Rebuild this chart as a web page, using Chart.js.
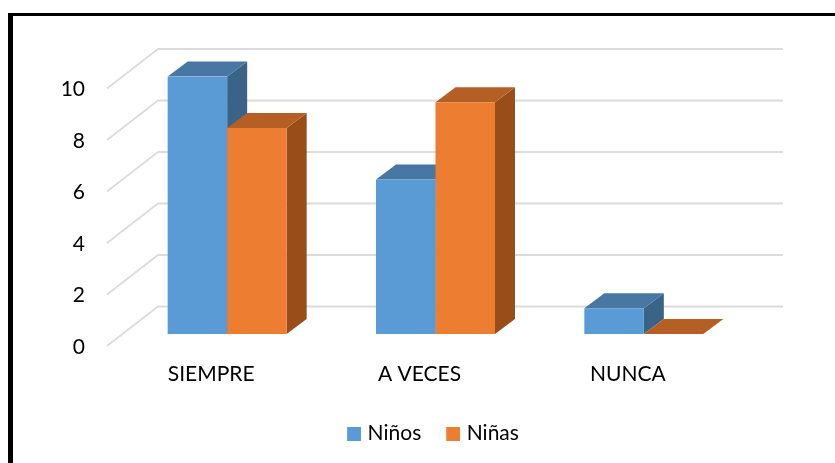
<!DOCTYPE html>
<html><head><meta charset="utf-8">
<style>
html,body{margin:0;padding:0;background:#fff;overflow:hidden}
#wrap{position:relative;width:835px;height:463px}
#frame{position:absolute;left:8px;top:13px;right:0;bottom:0;border-left:5px solid #000;border-top:3px solid #000;box-sizing:border-box}
canvas{position:absolute;left:0;top:0}
</style>
<script src="https://cdn.jsdelivr.net/npm/chart.js@4/dist/chart.umd.min.js"></script>
</head><body>
<div id="wrap"><div id="frame"></div><canvas id="c" width="835" height="463"></canvas></div>
<script>
const categories = ["SIEMPRE", "A VECES", "NUNCA"];
const ninos = [10, 6, 1];
const ninas = [8, 9, 0];
const yTicks = [0, 2, 4, 6, 8, 10];

const FONT = "Lato, 'Open Sans', sans-serif";
const seriesColors = [
  { front: "#5B9BD5", top: "#4777A2", side: "#3A6388" },
  { front: "#ED7D31", top: "#B55F25", side: "#994E1A" }
];

function legendSwatch(color) {
  const cv = document.createElement("canvas");
  cv.width = 18; cv.height = 14;
  const g = cv.getContext("2d");
  g.fillStyle = color;
  g.fillRect(4, 0, 14, 14);
  return cv;
}

const box3d = {
  id: "box3d",
  beforeDatasetsDraw(chart) {
    const ctx = chart.ctx;
    const y = chart.scales.y, area = chart.chartArea;
    const poly = (pts, fill) => {
      ctx.beginPath();
      pts.forEach((p, i) => i ? ctx.lineTo(p[0], p[1]) : ctx.moveTo(p[0], p[1]));
      ctx.closePath(); ctx.fillStyle = fill; ctx.fill();
    };
    // floor and back-wall grid lines
    ctx.save();
    ctx.strokeStyle = "#DCDCDC"; ctx.lineWidth = 1.8;
    yTicks.forEach(v => {
      const py = y.getPixelForValue(v);
      ctx.beginPath();
      ctx.moveTo(area.left - 16, py + 12);
      ctx.lineTo(area.left + 35, py - 27.5);
      ctx.lineTo(area.right + 35, py - 27.5);
      ctx.stroke();
    });
    // top and side faces, blue first so that orange overlaps it
    const dx = 20, dy = -15;
    chart.data.datasets.forEach((ds, i) => {
      chart.getDatasetMeta(i).data.forEach(bar => {
        const p = bar.getProps(["x", "y", "base", "width"], true);
        const l = p.x - p.width / 2, r = p.x + p.width / 2;
        const c = seriesColors[i];
        poly([[r, p.y], [r + dx, p.y + dy], [r + dx, p.base + dy], [r, p.base]], c.side);
        poly([[l, p.y], [l + dx, p.y + dy], [r + dx, p.y + dy], [r, p.y]], c.top);
      });
    });
    ctx.restore();
  }
};

new Chart(document.getElementById("c"), {
  type: "bar",
  data: {
    labels: categories,
    datasets: [
      { label: "Niños", data: ninos, backgroundColor: seriesColors[0].front },
      { label: "Niñas", data: ninas, backgroundColor: seriesColors[1].front }
    ]
  },
  plugins: [box3d],
  options: {
    responsive: false,
    animation: false,
    layout: { padding: { left: 31, right: 0, top: 76.5, bottom: 9 } },
    datasets: { bar: { categoryPercentage: 0.5712, barPercentage: 1, borderWidth: 0 } },
    scales: {
      x: {
        grid: { display: false }, border: { display: false },
        afterFit(s) { s.height = 64; },
        ticks: { color: "#000", font: { family: FONT, size: 21 }, padding: 20, labelOffset: -16, maxRotation: 0 }
      },
      y: {
        min: 0, max: 10,
        grid: { display: false, drawTicks: false }, border: { display: false },
        afterFit(s) { s.width = 92; },
        afterBuildTicks(s) { s.ticks = yTicks.map(v => ({ value: v })); },
        ticks: { color: "#000", font: { family: FONT, size: 21 }, padding: 38, labelOffset: 13 }
      },
      spacer: {
        position: "right", min: 0, max: 10,
        grid: { display: false, drawTicks: false }, border: { display: false },
        ticks: { display: false },
        afterFit(s) { s.width = 87; }
      }
    },
    plugins: {
      tooltip: { enabled: false },
      legend: {
        position: "bottom",
        labels: {
          color: "#000",
          font: { family: FONT, size: 21 },
          usePointStyle: true, pointStyleWidth: 10, boxHeight: 14,
          padding: 25,
          generateLabels(chart) {
            return chart.data.datasets.map((ds, i) => ({
              text: ds.label, datasetIndex: i, fontColor: "#000",
              pointStyle: legendSwatch(seriesColors[i].front),
              fillStyle: seriesColors[i].front, lineWidth: 0, hidden: false
            }));
          }
        }
      }
    }
  }
});
</script>
</body></html>
